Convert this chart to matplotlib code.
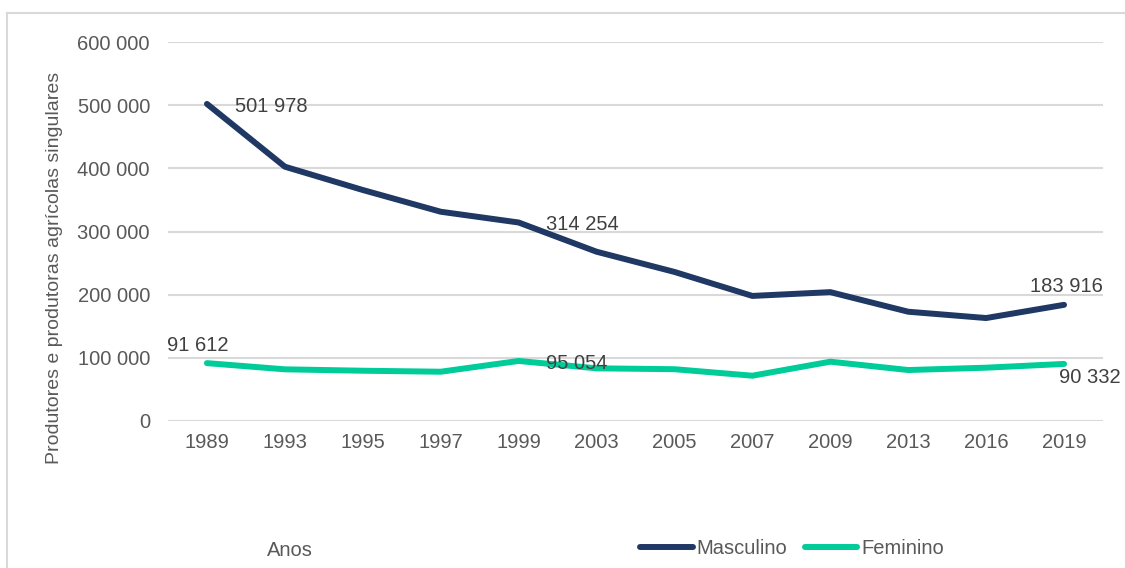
import matplotlib.pyplot as plt
from matplotlib.lines import Line2D

plt.rcParams['font.family'] = ['Liberation Sans', 'DejaVu Sans']

anos = ['1989', '1993', '1995', '1997', '1999', '2003', '2005', '2007', '2009', '2013', '2016', '2019']
masculino = [501978, 402600, 365700, 331300, 314254, 268000, 236000, 198000, 204000, 173000, 163000, 183916]
feminino = [91612, 81800, 79600, 78000, 95054, 83400, 82000, 71700, 93900, 80700, 84400, 90332]

NAVY = '#203864'
TEAL = '#00CC99'
GREY = '#595959'
FS = 14.5

fig = plt.figure(figsize=(11.25, 5.68), dpi=100)
ax = fig.add_axes([168/1125, 1 - 421/568, 935/1125, 379/568])

x = range(len(anos))
ax.plot(x, masculino, color=NAVY, lw=4.3, solid_capstyle='round', solid_joinstyle='round',
        label='Masculino', zorder=3)
ax.plot(x, feminino, color=TEAL, lw=4.3, solid_capstyle='round', solid_joinstyle='round',
        label='Feminino', zorder=3)

ax.set_xlim(-0.5, len(anos) - 0.5)
ax.set_ylim(0, 600000)
ax.set_yticks(range(0, 600001, 100000))
ax.set_yticklabels(['0' if v == 0 else f'{v:,}'.replace(',', ' ') for v in range(0, 600001, 100000)])
ax.set_xticks(list(x))
ax.set_xticklabels(anos)
ax.tick_params(length=0, labelsize=FS, labelcolor=GREY)
ax.tick_params(axis='y', pad=13)
ax.tick_params(axis='x', pad=9)
ax.grid(axis='y', color='#d9d9d9', lw=1.5)
ax.set_axisbelow(True)
for s in ax.spines.values():
    s.set_visible(False)

ax.set_ylabel('Produtores e produtoras agrícolas singulares', fontsize=14, color=GREY)
ax.yaxis.set_label_coords(-0.112, 0.404)

def fmt(v):
    return f'{v:,}'.replace(',', ' ')

lab = '#404040'
ax.annotate(fmt(masculino[0]), (0, masculino[0]), xytext=(20, -1.5), textcoords='offset points',
            ha='left', va='center', fontsize=FS, color=lab)
ax.annotate(fmt(masculino[4]), (4, masculino[4]), xytext=(20, -1.5), textcoords='offset points',
            ha='left', va='center', fontsize=FS, color=lab)
ax.annotate(fmt(masculino[-1]), (11, masculino[-1]), xytext=(1.5, 13), textcoords='offset points',
            ha='center', va='center', fontsize=FS, color=lab)
ax.annotate(fmt(feminino[0]), (0, feminino[0]), xytext=(-6.5, 13), textcoords='offset points',
            ha='center', va='center', fontsize=FS, color=lab)
ax.annotate(fmt(feminino[4]), (4, feminino[4]), xytext=(20, -1.5), textcoords='offset points',
            ha='left', va='center', fontsize=FS, color=lab)
ax.annotate(fmt(feminino[-1]), (11, feminino[-1]), xytext=(-3.6, -10), textcoords='offset points',
            ha='left', va='center', fontsize=FS, color=lab)

fig.text(290/1125, 1 - 550/568, 'Anos', ha='center', va='center', fontsize=FS, color=GREY)

handles = [Line2D([], [], color=NAVY, lw=4.3, solid_capstyle='round'),
           Line2D([], [], color=TEAL, lw=4.3, solid_capstyle='round')]
fig.legend(handles, ['Masculino', 'Feminino'], loc='center', bbox_to_anchor=(792/1125, 1 - 549/568),
           ncol=2, frameon=False, fontsize=FS, labelcolor=GREY, handlelength=2.6,
           handletextpad=0.2, columnspacing=0.85)

# light frame around the chart
fig.add_artist(Line2D([7/1125, 1], [1 - 13/568, 1 - 13/568], color='#d9d9d9', lw=1.5,
                      transform=fig.transFigure))
fig.add_artist(Line2D([7/1125, 7/1125], [0, 1 - 13/568], color='#d9d9d9', lw=1.5,
                      transform=fig.transFigure))

fig.savefig('out.png', dpi=100)
